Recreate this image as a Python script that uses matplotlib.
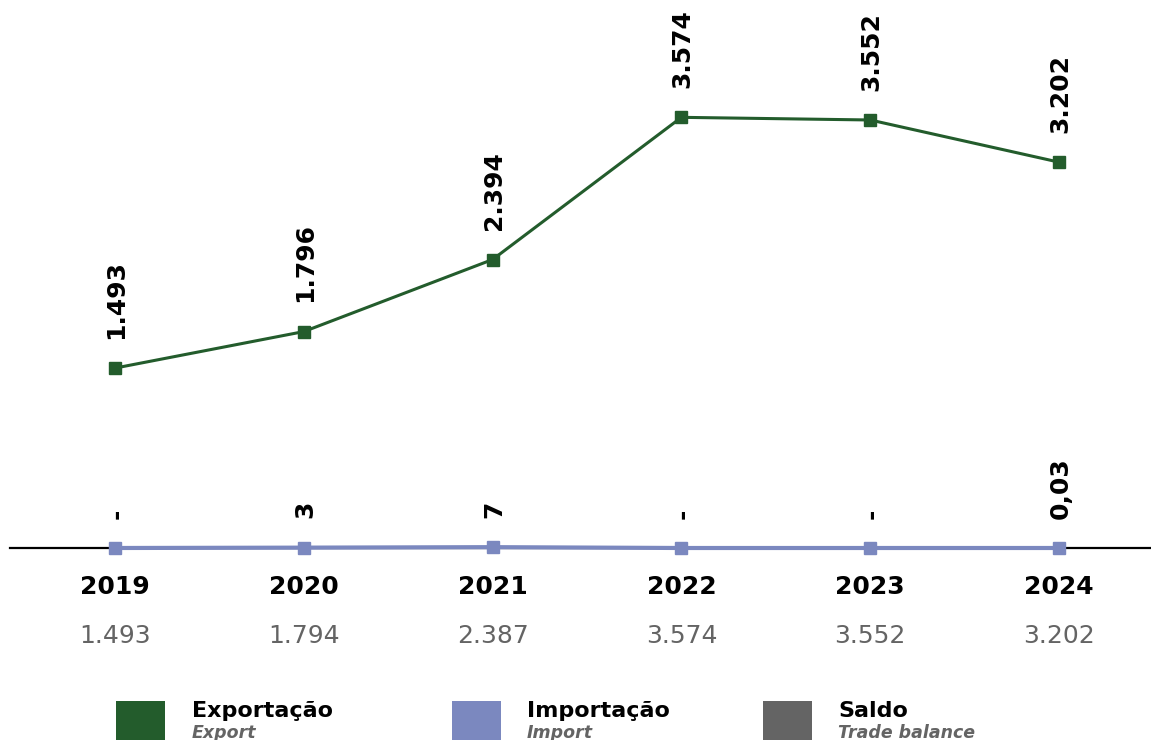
import matplotlib.pyplot as plt
from matplotlib.patches import Rectangle

# Trade values by year (exports, imports, balance)
years = ['2019', '2020', '2021', '2022', '2023', '2024']
exportacao = [1493, 1796, 2394, 3574, 3552, 3202]
importacao = [0, 3, 7, 0, 0, 0.03]
saldo = [1493, 1794, 2387, 3574, 3552, 3202]

legend_pt = ['Exportação', 'Importação', 'Saldo']
legend_en = ['Export', 'Import', 'Trade balance']

GREEN = '#235C2C'
BLUE = '#7B88BF'
GRAY = '#646464'


def fmt_br(v):
    # Brazilian number format: "." for thousands, "," for decimals, "-" for zero
    if v == 0:
        return '-'
    if v == int(v):
        return f'{int(v):,}'.replace(',', '.')
    return f'{v:.2f}'.replace('.', ',')


W, H = 1151, 740
fig = plt.figure(figsize=(W / 100, H / 100), dpi=100)
ax = fig.add_axes([10 / W, (H - 560) / H, (W - 10) / W, 560 / H])

x = list(range(len(years)))

ax.axhline(0, color='black', lw=1.6, zorder=1, clip_on=False)
ax.plot(x, importacao, color=BLUE, lw=3, marker='s', markersize=8.6,
        zorder=3, clip_on=False)
ax.plot(x, exportacao, color=GREEN, lw=2.2, marker='s', markersize=8.6,
        zorder=4, clip_on=False)

# rotated value labels above each point
for series in (exportacao, importacao):
    for xi, v in zip(x, series):
        ax.annotate(fmt_br(v), (xi, v), xytext=(1, 21),
                    textcoords='offset points', rotation=90,
                    ha='center', va='bottom', fontsize=18,
                    fontweight='bold', color='black')

ax.set_xlim(-0.556, 5.487)
ax.set_ylim(-12 / 0.1205, 548 / 0.1205)
ax.axis('off')

# year row and balance row under the axis
trans = ax.get_xaxis_transform()
for xi, yr, s in zip(x, years, saldo):
    ax.text(xi, -34 / 560, yr, transform=trans, ha='center', va='baseline',
            fontsize=18, fontweight='bold', color='black')
    ax.text(xi, -83 / 560, fmt_br(s), transform=trans, ha='center',
            va='baseline', fontsize=18, color=GRAY)

# legend
box_x = [116, 452, 763]
txt_x = [192, 527, 838]
for bx, tx, c, pt, en in zip(box_x, txt_x, [GREEN, BLUE, GRAY],
                             legend_pt, legend_en):
    fig.add_artist(Rectangle((bx / W, 0), 49 / W, (740 - 701) / H,
                             transform=fig.transFigure, color=c, lw=0))
    fig.text(tx / W, 1 - 717 / H, pt, ha='left', va='baseline',
             fontsize=16, fontweight='bold', color='black')
    fig.text(tx / W, 1 - 738 / H, en, ha='left', va='baseline',
             fontsize=12.5, fontweight='bold', fontstyle='italic', color=GRAY)

fig.savefig('out.png', dpi=100)
